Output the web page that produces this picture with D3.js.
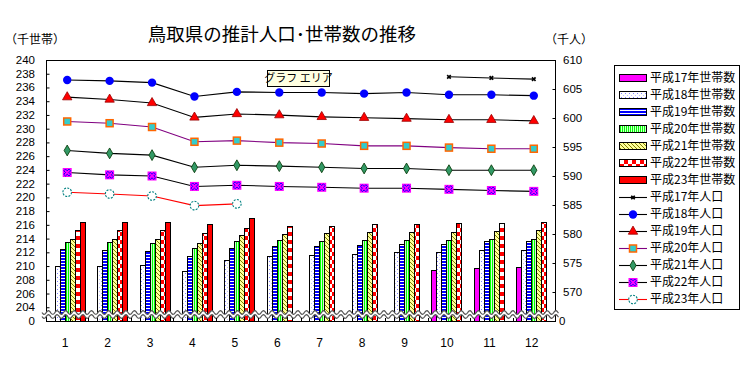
<!DOCTYPE html>
<html><head><meta charset="utf-8">
<script src="https://cdn.jsdelivr.net/npm/d3@7"></script>
<style>
html,body{margin:0;padding:0;background:#fff;}
svg{display:block;}
text{font-family:"Liberation Sans",Arial,"Noto Sans CJK JP",sans-serif;}
.jp{font-family:"Noto Sans CJK JP",sans-serif;}
</style></head>
<body>
<svg id="c" width="741" height="366"></svg>
<script>
// ---- data ----
const months = [1,2,3,4,5,6,7,8,9,10,11,12];
const householdNames = ["平成17年世帯数","平成18年世帯数","平成19年世帯数","平成20年世帯数","平成21年世帯数","平成22年世帯数","平成23年世帯数"];
const popNames = ["平成17年人口","平成18年人口","平成19年人口","平成20年人口","平成21年人口","平成22年人口","平成23年人口"];
// households (thousands)
const hh17 = [null,null,null,null,null,null,null,null,null,209.4,209.7,209.9];
const hh18 = [210.0,210.0,210.15,209.3,210.9,211.4,211.55,211.7,212.0,212.05,212.3,212.3];
const hh19 = [212.5,212.3,212.2,211.4,212.6,212.9,212.9,213.0,213.2,213.2,213.6,213.6];
const hh20 = [213.45,213.45,213.3,212.6,213.6,213.8,213.6,213.8,213.8,213.8,213.9,214.0];
const hh21 = [214.0,214.0,214.0,213.3,214.5,214.7,214.8,214.95,214.95,214.95,215.1,215.2];
const hh22 = [215.2,215.2,215.2,214.8,215.6,215.8,215.8,216.1,216.1,216.3,216.3,216.4];
const hh23 = [216.4,216.4,216.4,216.1,217.0,null,null,null,null,null,null,null];
// population (thousands)
const pop17 = [null,null,null,null,null,null,null,null,null,607.1,606.9,606.7];
const pop18 = [606.55,606.4,606.1,603.7,604.5,604.4,604.4,604.2,604.4,604.0,604.0,603.85];
const pop19 = [603.6,603.2,602.6,600.1,600.7,600.5,600.2,600.05,599.9,599.7,599.7,599.5];
const pop20 = [599.4,599.1,598.45,595.9,596.1,595.75,595.6,595.2,595.2,594.9,594.7,594.7];
const pop21 = [594.4,593.9,593.6,591.5,591.85,591.7,591.5,591.3,591.3,591.0,591.0,591.0];
const pop22 = [590.6,590.2,590.0,588.2,588.4,588.2,588.05,587.9,587.9,587.7,587.5,587.35];
const pop23 = [587.2,586.9,586.55,584.9,585.2,null,null,null,null,null,null,null];
const leftTicks = [204,206,208,210,212,214,216,218,220,222,224,226,228,230,232,234,236,238,240];
const rightTicks = [570,575,580,585,590,595,600,605,610];
const title = "鳥取県の推計人口･世帯数の推移";
const leftUnit = "（千世帯）";
const rightUnit = "（千人）";

const hhSeries = [hh17,hh18,hh19,hh20,hh21,hh22,hh23];
const popSeries = [pop17,pop18,pop19,pop20,pop21,pop22,pop23];

// ---- layout ----
const svg = d3.select("#c");
const X0 = 46, X1 = 555, Y0 = 60, Y1 = 321;
const x0 = d3.scaleBand().domain(months).range([X0, X1]).padding(0);
const bw = x0.bandwidth();
const groupW = 35;
const x1 = d3.scaleBand().domain(householdNames).range([(bw-groupW)/2, (bw+groupW)/2]).padding(0);
const yL = d3.scaleLinear().domain([202, 240]).range([Y1, Y0]);
const yR = d3.scaleLinear().domain([565, 610]).range([Y1, Y0]);

// ---- patterns ----
const defs = svg.append("defs");
let p = defs.append("pattern").attr("id","p18").attr("patternUnits","userSpaceOnUse").attr("width",4).attr("height",4);
p.append("rect").attr("width",4).attr("height",4).attr("fill","#fff");
p.append("rect").attr("x",1).attr("y",1).attr("width",1).attr("height",1).attr("fill","#8080ff");
p.append("rect").attr("x",3).attr("y",3).attr("width",1).attr("height",1).attr("fill","#c0c0ff");
p = defs.append("pattern").attr("id","p19").attr("patternUnits","userSpaceOnUse").attr("width",4).attr("height",3);
p.append("rect").attr("width",4).attr("height",3).attr("fill","#fff");
p.append("rect").attr("width",4).attr("height",2).attr("fill","#0000ff");
p = defs.append("pattern").attr("id","p20").attr("patternUnits","userSpaceOnUse").attr("width",2).attr("height",4);
p.append("rect").attr("width",2).attr("height",4).attr("fill","#00ff00");
p.append("rect").attr("x",1).attr("width",1).attr("height",4).attr("fill","#ccffcc");
p = defs.append("pattern").attr("id","p21").attr("patternUnits","userSpaceOnUse").attr("width",4).attr("height",4);
p.append("rect").attr("width",4).attr("height",4).attr("fill","#ffff99");
p.append("path").attr("d","M0,0L4,4M-1,3L1,5M3,-1L5,1").attr("stroke","#808000").attr("stroke-width",1);
p = defs.append("pattern").attr("id","p22").attr("patternUnits","userSpaceOnUse").attr("width",8).attr("height",8);
p.append("rect").attr("width",8).attr("height",8).attr("fill","#fff");
p.append("rect").attr("width",4).attr("height",4).attr("fill","#ff0000");
p.append("rect").attr("x",4).attr("y",4).attr("width",4).attr("height",4).attr("fill","#ff0000");

const fills = ["#ff00ff","url(#p18)","url(#p19)","url(#p20)","url(#p21)","url(#p22)","#ff0000"];

// ---- frame ----
svg.append("rect").attr("x",X0+0.5).attr("y",Y0+0.5).attr("width",X1-X0).attr("height",Y1-Y0)
  .attr("fill","none").attr("stroke","#000").attr("stroke-width",1);

// ---- bars ----
const barG = svg.append("g");
hhSeries.forEach((s,i)=>{
  barG.selectAll(null).data(months.map((m,j)=>({m,v:s[j]})).filter(d=>d.v!=null))
    .enter().append("rect")
    .attr("x",d=>Math.round(x0(d.m)+x1(householdNames[i]))+0.5)
    .attr("y",d=>Math.round(yL(d.v))+0.5)
    .attr("width",Math.round(x1.bandwidth()))
    .attr("height",d=>Y1-Math.round(yL(d.v)))
    .attr("fill",fills[i]).attr("stroke","#000").attr("stroke-width",1);
});

// ---- break band ----
const wx = d3.range(42, 559, 0.5);
const wave = (off)=> wx.map(x=>[x, 312.5+off+1.8*Math.sin(2*Math.PI*(x-42)/8.6)]);
const waveTop = wave(0), waveBot = wave(4);
svg.append("path").attr("d", d3.line()(waveTop.concat(waveBot.slice().reverse()))+"Z").attr("fill","#fff");
svg.append("path").attr("d", d3.line()(waveTop)).attr("fill","none").attr("stroke","#555").attr("stroke-width",1.2);
svg.append("path").attr("d", d3.line()(waveBot)).attr("fill","none").attr("stroke","#555").attr("stroke-width",1.2);

// ---- axes ----
const axL = svg.append("g").attr("transform",`translate(${X0+0.5},0)`)
  .call(d3.axisRight(yL).tickValues(leftTicks).tickSize(3).tickFormat(""));
axL.select(".domain").remove();
svg.append("g").selectAll("text").data(leftTicks).enter().append("text")
  .attr("x",35).attr("y",d=>yL(d)).attr("dy","0.35em").attr("text-anchor","end")
  .attr("font-size",11.5).text(d=>d);
svg.append("text").attr("x",35).attr("y",Y1).attr("dy","0.35em").attr("text-anchor","end").attr("font-size",11.5).text("0");

const axR = svg.append("g").attr("transform",`translate(${X1+0.5},0)`)
  .call(d3.axisLeft(yR).tickValues(rightTicks).tickSize(3).tickFormat(""));
axR.select(".domain").remove();
svg.append("g").selectAll("text").data(rightTicks).enter().append("text")
  .attr("x",563).attr("y",d=>yR(d)).attr("dy","0.35em").attr("text-anchor","start")
  .attr("font-size",11.5).text(d=>d);
svg.append("text").attr("x",559).attr("y",Y1).attr("dy","0.35em").attr("text-anchor","start").attr("font-size",11.5).text("0");

svg.append("g").selectAll("line").data(months.slice(1)).enter().append("line")
  .attr("x1",d=>Math.round(x0(d))+0.5).attr("x2",d=>Math.round(x0(d))+0.5)
  .attr("y1",Y1-3).attr("y2",Y1).attr("stroke","#000");
svg.append("g").selectAll("text").data(months).enter().append("text")
  .attr("x",d=>x0(d)+bw/2-2).attr("y",343).attr("dy","0.35em").attr("text-anchor","middle")
  .attr("font-size",12).text(d=>d);

// ---- lines ----
const lineStroke = ["#000","#000","#000","#800080","#000","#000","#ff0000"];
const cx = m => x0(m)+bw/2;
const lineGen = (ys)=> d3.line().defined(d=>d.v!=null).x(d=>cx(d.m)).y(d=>ys(d.v));
function marker(g,i){
  if(i===0){ g.append("path").attr("d",d3.symbol(d3.symbolCross,14)()).attr("transform","rotate(45)").attr("fill","#000"); }
  else if(i===1){ g.append("circle").attr("r",4.2).attr("fill","#0000ff"); }
  else if(i===2){ g.append("path").attr("d",d3.symbol(d3.symbolTriangle,38)()).attr("fill","#ff0000").attr("stroke","#990000").attr("stroke-width",0.8); }
  else if(i===3){ g.append("rect").attr("x",-3.5).attr("y",-3.5).attr("width",7).attr("height",7).attr("fill","#33cccc").attr("stroke","#ff6600").attr("stroke-width",1.5); }
  else if(i===4){ g.append("path").attr("d",d3.symbol(d3.symbolDiamond,34)()).attr("fill","#339966").attr("stroke","#003300").attr("stroke-width",0.8); }
  else if(i===5){ g.append("rect").attr("x",-4.5).attr("y",-4.5).attr("width",9).attr("height",9).attr("fill","#ff00ff");
    g.append("path").attr("d",d3.symbol(d3.symbolCross,30)()).attr("transform","rotate(45)").attr("fill","none").attr("stroke","#0000ff").attr("stroke-width",0.9); }
  else if(i===6){ g.append("circle").attr("r",4.3).attr("fill","#fff").attr("stroke","#008080").attr("stroke-width",1.1).attr("stroke-dasharray","2,1.3"); }
}
popSeries.forEach((s,i)=>{
  const data = months.map((m,j)=>({m,v:s[j]}));
  svg.append("path").datum(data).attr("d",lineGen(yR)).attr("fill","none")
    .attr("stroke",lineStroke[i]).attr("stroke-width",1.1);
  svg.append("g").selectAll("g").data(data.filter(d=>d.v!=null)).enter().append("g")
    .attr("transform",d=>`translate(${cx(d.m)},${yR(d.v)})`)
    .each(function(){ marker(d3.select(this),i); });
});

// ---- titles ----
svg.append("text").attr("class","jp").attr("x",282).attr("y",35).attr("dy","0.35em").attr("text-anchor","middle")
  .attr("font-size",18.5).text(title);
svg.append("text").attr("class","jp").attr("x",5).attr("y",40).attr("dy","0.35em").attr("font-size",12).text(leftUnit);
svg.append("text").attr("class","jp").attr("x",545).attr("y",40).attr("dy","0.35em").attr("font-size",12).text(rightUnit);

const tip = svg.append("g");
tip.append("rect").attr("x",267.5).attr("y",70.5).attr("width",62).attr("height",16).attr("fill","#ffffe1").attr("stroke","#000");
tip.append("text").attr("class","jp").attr("x",298.5).attr("y",78.5).attr("dy","0.35em").attr("text-anchor","middle").attr("font-size",11).text("グラフ エリア");

// ---- legend ----
const lg = svg.append("g");
lg.append("rect").attr("x",614.5).attr("y",65.5).attr("width",125).attr("height",244).attr("fill","#fff").attr("stroke","#000");
const ly = d3.scaleLinear().domain([0,13]).range([77.5,298.5]);
householdNames.forEach((n,i)=>{
  lg.append("rect").attr("x",619.5).attr("y",Math.round(ly(i))-3.5).attr("width",27).attr("height",7)
    .attr("fill",fills[i]).attr("stroke","#000").attr("stroke-width",1);
  lg.append("text").attr("class","jp").attr("x",650).attr("y",ly(i)).attr("dy","0.35em").attr("font-size",12).text(n);
});
popNames.forEach((n,k)=>{
  const i = k+7;
  lg.append("line").attr("x1",619).attr("x2",647).attr("y1",Math.round(ly(i))+0.5).attr("y2",Math.round(ly(i))+0.5)
    .attr("stroke",lineStroke[k]).attr("stroke-width",1.1);
  const g = lg.append("g").attr("transform",`translate(633,${Math.round(ly(i))+0.5})`);
  marker(g,k);
  lg.append("text").attr("class","jp").attr("x",650).attr("y",ly(i)).attr("dy","0.35em").attr("font-size",12).text(n);
});
</script>
</body></html>
